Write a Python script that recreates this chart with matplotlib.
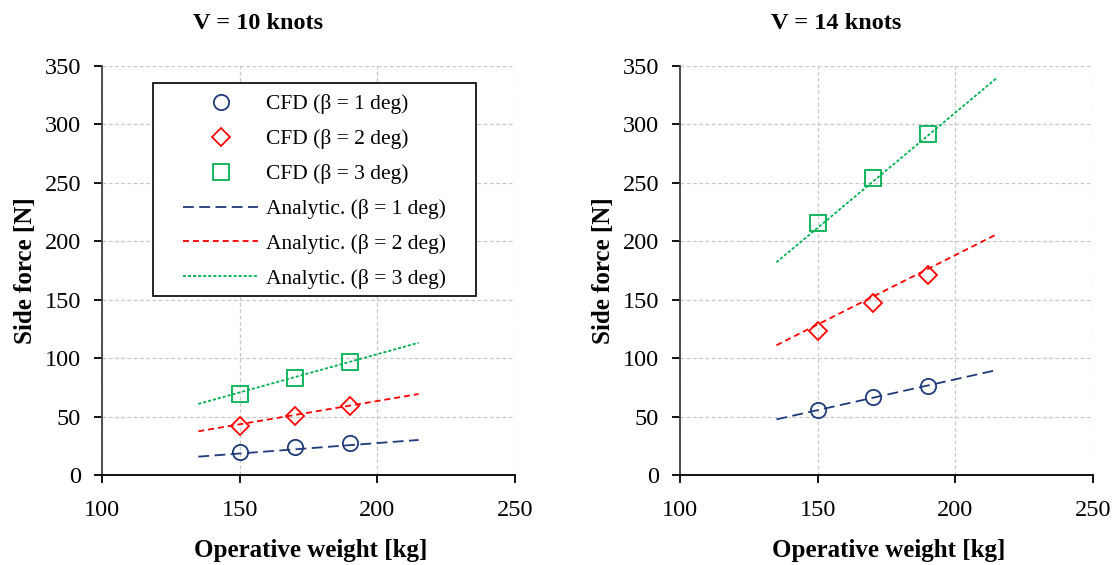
import matplotlib
matplotlib.use("Agg")
import matplotlib.pyplot as plt
from matplotlib.patches import Rectangle
import numpy as np

plt.rcParams['font.family'] = ['Liberation Serif', 'DejaVu Serif']

weights_cfd = [150, 170, 190]
weights_line = [135, 215]

titles = ["V = 10 knots", "V = 14 knots"]

# V = 10 knots
cfd10 = {1: [19.5, 23.7, 27.2], 2: [42.0, 50.2, 59.0], 3: [69.3, 83.3, 97.0]}
ana10 = {1: [15.7, 30.0], 2: [37.4, 69.3], 3: [60.8, 113.2]}
# V = 14 knots
cfd14 = {1: [56.0, 66.5, 76.5], 2: [123.0, 147.0, 171.0], 3: [215.4, 253.9, 292.0]}
ana14 = {1: [47.6, 89.8], 2: [111.0, 206.0], 3: [182.0, 339.7]}

betas = [1, 2, 3]
colors = {1: "#1F3A7A", 2: "#FF0000", 3: "#00B050"}
markers = {1: "o", 2: "D", 3: "s"}
msizes = {1: 11, 2: 9.5, 3: 11}
dashes = {1: (6, 3), 2: (3.3, 2.2), 3: (1.7, 1.1)}

fig = plt.figure(figsize=(11.13, 5.65), dpi=100)
axes = [fig.add_axes([0.0916, 0.1593, 0.3711, 0.7239]),
        fig.add_axes([0.6110, 0.1593, 0.3711, 0.7239])]

datasets = [(cfd10, ana10), (cfd14, ana14)]

for ax, (cfd, ana), title in zip(axes, datasets, titles):
    handles = []
    for b in betas:
        h, = ax.plot(weights_cfd, cfd[b], linestyle='none', marker=markers[b],
                     markersize=msizes[b], markerfacecolor='none',
                     markeredgecolor=colors[b], markeredgewidth=1.3,
                     label=f"CFD (β = {b} deg)", zorder=3)
        handles.append(h)
    for b in betas:
        h, = ax.plot(weights_line, ana[b], color=colors[b], linewidth=1.3,
                     dashes=dashes[b], label=f"Analytic. (β = {b} deg)", zorder=2)
        handles.append(h)
    ax.set_xlim(100, 250)
    ax.set_ylim(0, 350)
    ax.set_xticks([100, 150, 200, 250])
    ax.set_yticks(np.arange(0, 351, 50))
    ax.grid(True, color='#C8C8C8', linestyle=(0, (3, 2)), linewidth=0.9)
    ax.set_axisbelow(True)
    for s in ['top', 'right']:
        ax.spines[s].set_visible(False)
    ax.spines['left'].set_color('#404040')
    ax.spines['left'].set_linewidth(1.3)
    ax.spines['bottom'].set_color('black')
    ax.spines['bottom'].set_linewidth(1.3)
    ax.tick_params(direction='out', length=6, width=1.3, labelsize=17.5)
    ax.tick_params(axis='y', pad=9)
    ax.tick_params(axis='x', pad=12)
    ax.set_xlabel("Operative weight [kg]", fontsize=18, fontweight='bold')
    ax.set_ylabel("Side force [N]", fontsize=18, fontweight='bold')
    ax.xaxis.set_label_coords(0.505, -0.156)
    ax.yaxis.set_label_coords(-0.158, 0.5)
    ax.text(0.377, 1.105, title, transform=ax.transAxes, fontsize=17.5,
            fontweight='bold', ha='center', va='center')

# legend on the left panel with manually drawn frame
ax0 = axes[0]
leg = ax0.legend(handles=handles, loc='upper left', bbox_to_anchor=(0.196, 0.931),
                 fontsize=15.5, frameon=False, borderpad=0, handlelength=3.5,
                 labelspacing=0.69, handletextpad=0.37, borderaxespad=0)
ax0.add_patch(Rectangle((0.1235, 0.4377), 0.782, 0.5208, transform=ax0.transAxes,
                        fill=True, facecolor='white', edgecolor='black',
                        linewidth=1.2, zorder=4))
leg.set_zorder(5)

fig.savefig("out.png", dpi=100)
